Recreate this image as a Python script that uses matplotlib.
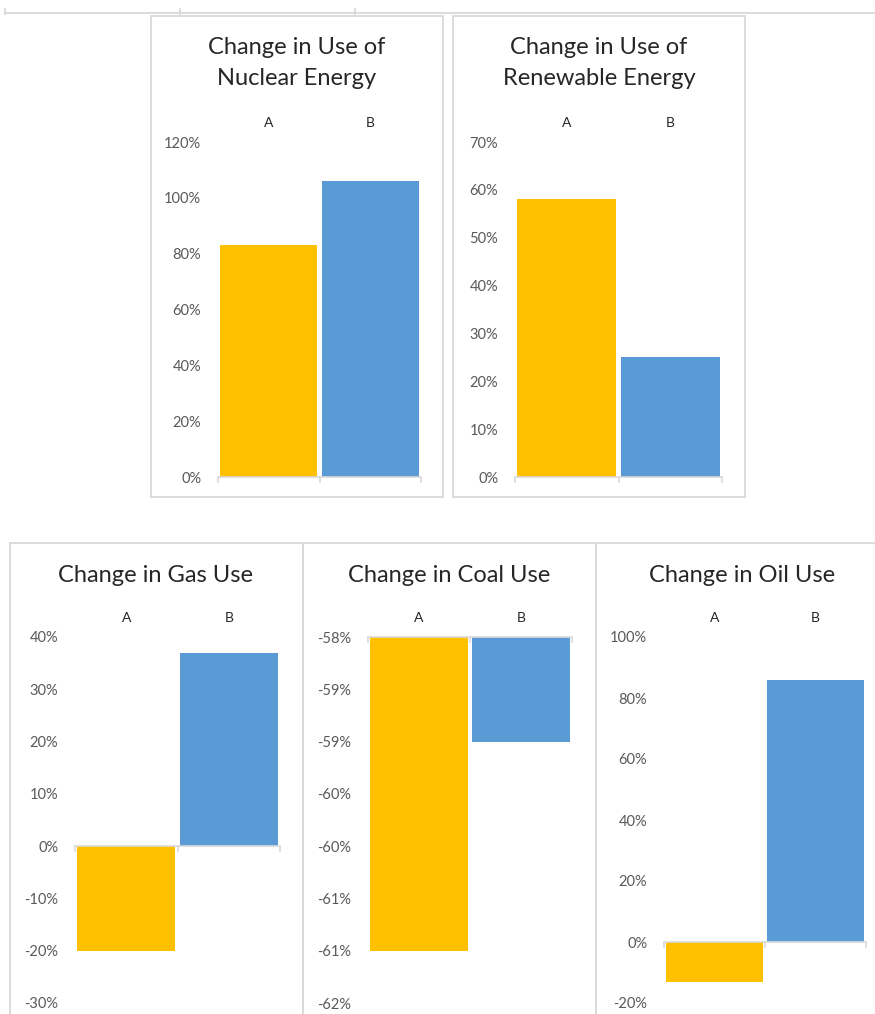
import matplotlib.pyplot as plt
from matplotlib.patches import Rectangle
from matplotlib.lines import Line2D

plt.rcParams["font.family"] = ["Lato", "DejaVu Sans"]

categories = ["A", "B"]

nuclear = [83, 106]
renewable = [58, 25]
gas = [-20, 37]
coal = [-61.0, -59.0]
oil = [-13, 86]

nuclear_ticks = [0, 20, 40, 60, 80, 100, 120]
renewable_ticks = [0, 10, 20, 30, 40, 50, 60, 70]
gas_ticks = [-30, -20, -10, 0, 10, 20, 30, 40]
coal_ticks = [-61.5, -61.0, -60.5, -60.0, -59.5, -59.0, -58.5, -58.0]
coal_tick_labels = ["-62%", "-61%", "-61%", "-60%", "-60%", "-59%", "-59%", "-58%"]
oil_ticks = [-20, 0, 20, 40, 60, 80, 100]

ORANGE = "#FFC000"
BLUE = "#5B9BD5"
GRID = "#D9D9D9"
W, H = 875, 1014

fig = plt.figure(figsize=(W / 100, H / 100), dpi=100)


def fx(px):
    return px / W


def fy(py):
    return 1 - py / H


def panel_box(x0, y0, x1, y1):
    fig.patches.append(Rectangle((fx(x0), fy(y1)), fx(x1) - fx(x0), fy(y0) - fy(y1),
                                 transform=fig.transFigure, fill=False,
                                 edgecolor=GRID, linewidth=1.3))


def bar_chart(rect, values, ticks, labels=None, base=0):
    x0, y0, x1, y1 = rect
    ax = fig.add_axes([fx(x0), fy(y1), fx(x1) - fx(x0), fy(y0) - fy(y1)])
    heights = [v - base for v in values]
    ax.bar([0, 1], heights, bottom=base, width=0.955, color=[ORANGE, BLUE])
    ax.set_xlim(-0.5, 1.5)
    ax.set_ylim(ticks[0], ticks[-1])
    ax.set_yticks(ticks)
    if labels is None:
        labels = [f"{t:.0f}%" for t in ticks]
    ax.set_yticklabels(labels)
    ax.tick_params(axis="y", length=0, pad=12, labelsize=10.5, labelcolor="#595959")
    for s in ["left", "right", "top"]:
        ax.spines[s].set_visible(False)
    ax.spines["bottom"].set_position(("data", base))
    ax.spines["bottom"].set_color(GRID)
    ax.spines["bottom"].set_linewidth(1.2)
    ax.set_xticks([0, 1])
    ax.set_xticklabels(categories)
    ax.set_xticks([-0.5, 0.5, 1.5], minor=True)
    ax.tick_params(axis="x", which="major", bottom=False, top=False,
                   labelbottom=False, labeltop=True, labelsize=10, pad=6,
                   labelcolor="#262626")
    ax.tick_params(axis="x", which="minor", bottom=True, top=False,
                   length=4, width=1.2, color=GRID, direction="out")
    return ax


# separator line across the top
fig.add_artist(Line2D([fx(5), fx(875)], [fy(13), fy(13)], transform=fig.transFigure,
                      color=GRID, linewidth=1.3))
for sx in [5, 180, 355]:
    fig.add_artist(Line2D([fx(sx), fx(sx)], [fy(9), fy(14)], transform=fig.transFigure,
                          color=GRID, linewidth=1.3))

# panel frames
panel_box(151, 16, 443, 497)
panel_box(453, 16, 745, 497)
panel_box(10, 543, 303, 1020)
panel_box(303, 543, 596, 1020)
panel_box(596, 543, 890, 1020)

# titles
title_kw = dict(ha="center", va="center", fontsize=17, color="#262626",
                linespacing=1.6, transform=fig.transFigure)
fig.text(fx(297), fy(63), "Change in Use of\nNuclear Energy", **title_kw)
fig.text(fx(599), fy(63), "Change in Use of\nRenewable Energy", **title_kw)
fig.text(fx(156), fy(575), "Change in Gas Use", **title_kw)
fig.text(fx(449), fy(575), "Change in Coal Use", **title_kw)
fig.text(fx(742), fy(575), "Change in Oil Use", **title_kw)

bar_chart((218, 142, 421, 477), nuclear, nuclear_ticks)
bar_chart((515, 142, 722, 477), renewable, renewable_ticks)
bar_chart((75, 637, 280, 1003), gas, gas_ticks)
bar_chart((368, 637, 572, 1003), coal, coal_ticks, coal_tick_labels, base=coal_ticks[-1])
bar_chart((664, 637, 866, 1003), oil, oil_ticks)

fig.savefig("out.png", dpi=100)
